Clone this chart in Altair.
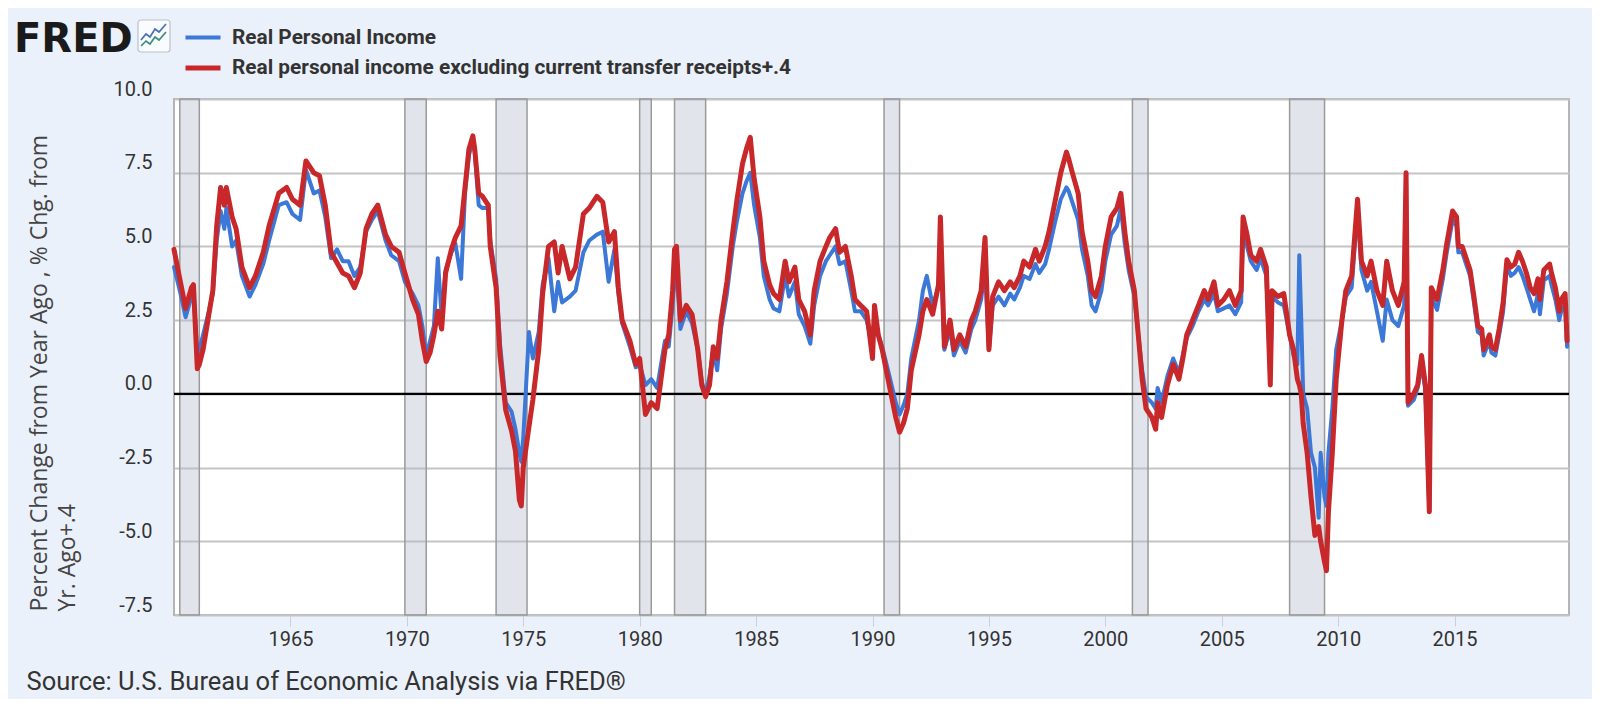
import base64
import altair as alt
import pandas as pd

SER_BLUE = "Real Personal Income"
SER_RED = "Real personal income excluding current transfer receipts+.4"

# ---- data (year-month, red = excl. transfers +.4, blue = real personal income)
dates_60s = ["1960-01","1960-04","1960-07","1960-10","1960-11",
             "1961-01","1961-02","1961-04","1961-07","1961-09","1961-11",
             "1962-01","1962-03","1962-04","1962-07","1962-09","1962-12",
             "1963-04","1963-07","1963-11",
             "1964-02","1964-07","1964-11",
             "1965-02","1965-06","1965-09",
             "1966-01","1966-04","1966-07","1966-10",
             "1967-01","1967-04","1967-07","1967-10",
             "1968-01","1968-04","1968-07","1968-10",
             "1969-02","1969-05","1969-09","1969-12"]
red_60s = [4.9,3.9,2.9,3.6,3.7,
           0.85,1.0,1.5,2.7,3.5,5.7,
           7.0,6.4,7.0,6.0,5.6,4.3,
           3.6,4.0,4.8,
           5.7,6.8,7.0,
           6.6,6.4,7.9,
           7.5,7.4,6.4,4.8,
           4.45,4.1,4.0,3.6,
           4.1,5.6,6.1,6.4,
           5.4,5.0,4.8,4.1]
blue_60s = [4.3,3.5,2.6,3.3,3.5,
            1.3,1.5,2.0,2.8,3.4,5.2,
            6.2,5.6,6.3,5.0,5.2,4.0,
            3.3,3.7,4.4,
            5.2,6.4,6.5,
            6.1,5.9,7.6,
            6.8,6.9,6.0,4.6,
            4.9,4.5,4.5,4.0,
            4.3,5.5,5.9,6.2,
            5.2,4.7,4.5,3.8]

dates_70s = ["1970-04","1970-07","1970-09","1970-11",
             "1971-01","1971-03","1971-05","1971-07","1971-09","1971-12",
             "1972-02","1972-05","1972-07","1972-09","1972-11","1972-12",
             "1973-02","1973-04","1973-07","1973-08","1973-11",
             "1974-01","1974-04","1974-07","1974-09","1974-11","1974-12",
             "1975-01","1975-04","1975-06","1975-09","1975-11",
             "1976-02","1976-05","1976-07","1976-09",
             "1977-01","1977-04","1977-08","1977-11",
             "1978-03","1978-06","1978-09","1978-12",
             "1979-02","1979-04","1979-08","1979-11"]
red_70s = [3.2,2.7,1.8,1.1,
           1.4,2.0,2.8,2.2,4.1,4.9,
           5.3,5.7,7.0,8.3,8.75,8.3,
           6.8,6.7,6.4,5.0,3.6,
           1.3,-0.55,-1.25,-1.95,-3.6,-3.8,
           -2.5,-1.1,-0.2,1.5,3.4,
           5.0,5.15,4.1,5.0,
           3.9,4.3,6.1,6.3,
           6.7,6.5,5.15,5.5,
           3.6,2.5,1.8,1.0]
blue_70s = [3.4,3.0,2.3,1.3,
            1.8,2.3,4.6,2.6,4.2,4.8,
            5.1,3.9,6.8,8.1,8.6,8.2,
            6.4,6.3,6.3,5.2,3.9,
            1.7,-0.3,-0.6,-1.2,-2.0,-2.3,
            -1.5,2.1,1.2,2.1,3.7,
            4.6,2.8,3.8,3.1,
            3.3,3.5,4.8,5.2,
            5.4,5.5,3.8,4.9,
            3.4,2.4,1.6,0.9]

dates_80s = ["1980-01","1980-04","1980-07","1980-10","1980-12",
             "1981-02","1981-04","1981-06","1981-07","1981-08","1981-10",
             "1982-01","1982-04","1982-07","1982-09","1982-11",
             "1983-01","1983-03","1983-05","1983-07","1983-10",
             "1984-01","1984-03","1984-06","1984-08","1984-10","1984-12",
             "1985-03","1985-05","1985-08","1985-10",
             "1986-01","1986-04","1986-06","1986-09","1986-11",
             "1987-02","1987-05","1987-07","1987-10",
             "1988-01","1988-03","1988-06","1988-08","1988-11",
             "1989-02","1989-04","1989-07","1989-10"]
red_80s = [1.2,-0.7,-0.3,-0.5,0.5,
           1.5,2.0,3.5,4.9,5.0,2.5,
           3.0,2.7,1.5,0.3,-0.1,
           0.3,1.6,1.2,2.5,3.8,
           5.5,6.5,7.8,8.3,8.7,7.3,
           6.0,4.5,3.7,3.4,
           3.2,4.5,3.8,4.3,3.2,
           2.8,2.0,3.5,4.5,
           5.0,5.3,5.6,4.8,5.0,
           4.0,3.2,3.0,2.8]
blue_80s = [1.0,0.3,0.5,0.2,1.0,
            1.8,1.6,3.0,4.0,4.2,2.2,
            2.8,2.4,1.5,0.4,0.0,
            0.6,1.5,0.8,2.2,3.4,
            5.0,5.8,6.8,7.2,7.5,6.4,
            5.3,4.0,3.2,2.9,
            2.8,4.0,3.3,3.8,2.7,
            2.3,1.7,3.0,4.0,
            4.5,4.7,5.0,4.4,4.5,
            3.5,2.8,2.8,2.5]

dates_90s = ["1990-01","1990-02","1990-04","1990-06","1990-09",
             "1991-01","1991-03","1991-05","1991-07","1991-09",
             "1992-01","1992-03","1992-05","1992-08","1992-11","1992-12",
             "1993-02","1993-05","1993-07","1993-10",
             "1994-01","1994-04","1994-06","1994-09","1994-11",
             "1995-01","1995-03","1995-06","1995-09","1995-12",
             "1996-02","1996-05","1996-07","1996-10",
             "1997-01","1997-03","1997-06","1997-08","1997-11",
             "1998-02","1998-05","1998-06","1998-08","1998-11",
             "1999-01","1999-04","1999-06","1999-08","1999-11"]
red_90s = [1.2,3.0,2.0,1.5,0.5,
           -0.8,-1.3,-1.0,-0.5,0.8,
           2.0,2.8,3.2,2.7,3.7,6.0,
           1.6,2.5,1.5,2.0,
           1.6,2.5,2.8,3.5,5.3,
           1.5,3.3,3.8,3.5,3.8,
           3.6,4.0,4.5,4.3,
           4.9,4.5,5.0,5.5,6.5,
           7.5,8.2,8.0,7.5,6.8,
           5.5,4.5,3.5,3.3,4.0]
blue_90s = [1.6,2.7,2.0,1.6,0.8,
            -0.3,-0.7,-0.4,0.0,1.2,
            2.5,3.5,4.0,3.0,3.6,5.3,
            1.5,2.2,1.3,1.8,
            1.4,2.2,2.5,3.2,4.3,
            1.5,3.0,3.3,3.0,3.4,
            3.2,3.6,4.0,3.9,
            4.4,4.1,4.4,4.9,5.8,
            6.6,7.0,6.9,6.5,5.9,
            4.9,4.0,3.0,2.8,3.5]

dates_00s = ["2000-01","2000-04","2000-07","2000-09","2000-11",
             "2001-01","2001-04","2001-06","2001-08","2001-10",
             "2002-01","2002-03","2002-04","2002-06","2002-09","2002-12",
             "2003-03","2003-05","2003-07","2003-10",
             "2004-01","2004-04","2004-06","2004-09","2004-11",
             "2005-02","2005-05","2005-08","2005-11","2005-12",
             "2006-02","2006-04","2006-07","2006-09","2006-12",
             "2007-02","2007-03","2007-06","2007-09","2007-12",
             "2008-02","2008-04","2008-05","2008-06","2008-07","2008-09","2008-11",
             "2009-01","2009-03","2009-04","2009-06","2009-07","2009-08","2009-10","2009-12"]
red_00s = [5.0,6.0,6.3,6.8,5.5,
           4.5,3.5,2.0,0.5,-0.5,
           -0.8,-1.2,-0.3,-0.8,0.3,1.0,
           0.5,1.2,2.0,2.5,
           3.0,3.5,3.2,3.8,3.0,
           3.2,3.5,3.0,3.5,6.0,
           5.4,4.7,4.5,4.9,4.3,
           0.3,3.5,3.3,3.4,2.0,
           1.5,0.5,0.3,0.0,-1.0,-2.0,-3.5,
           -4.8,-4.5,-5.0,-5.7,-6.0,-4.0,-2.0,0.5]
blue_00s = [4.5,5.4,5.7,6.3,5.1,
            4.2,3.3,2.0,0.8,-0.1,
            -0.3,-0.5,0.2,-0.3,0.6,1.2,
            0.7,1.3,1.9,2.3,
            2.8,3.2,3.0,3.4,2.8,
            2.9,3.0,2.7,3.1,5.7,
            5.0,4.5,4.2,4.6,4.0,
            0.5,3.3,3.1,3.0,2.0,
            1.3,1.0,4.7,2.5,0.0,-0.5,-2.0,
            -2.5,-4.2,-2.0,-3.5,-3.8,-2.0,-0.5,1.5]

dates_10s = ["2010-03","2010-05","2010-08","2010-11",
             "2011-01","2011-04","2011-06","2011-09","2011-12",
             "2012-02","2012-05","2012-08","2012-11","2012-12",
             "2013-01","2013-04","2013-06","2013-08","2013-10","2013-12",
             "2014-01","2014-04","2014-07","2014-09","2014-12",
             "2015-02","2015-03","2015-05","2015-07","2015-09","2015-11",
             "2016-01","2016-03","2016-04","2016-07","2016-08","2016-10","2016-12",
             "2017-02","2017-04","2017-06","2017-08","2017-10","2017-12",
             "2018-02","2018-04","2018-06","2018-08","2018-09","2018-11",
             "2019-02","2019-03","2019-05","2019-07","2019-08","2019-10","2019-11"]
red_10s = [2.5,3.5,4.0,6.6,
           4.5,4.0,4.5,3.5,3.0,
           4.5,3.5,3.0,3.8,7.5,
           -0.3,0.0,0.3,1.3,0.3,-4.0,
           3.6,3.2,4.2,5.1,6.2,
           6.0,5.0,5.0,4.6,4.2,3.3,
           2.3,2.2,1.5,2.0,1.6,1.5,2.2,
           3.1,4.55,4.3,4.4,4.8,4.5,
           4.1,3.6,3.4,3.9,3.2,4.2,
           4.4,4.1,3.6,2.8,3.2,3.4,1.8]
blue_10s = [2.5,3.3,3.6,6.3,
            4.2,3.5,3.8,2.8,1.8,
            3.2,2.5,2.3,3.0,7.1,
            -0.4,-0.2,0.2,1.0,0.1,-4.0,
            3.3,2.85,3.9,4.8,5.9,
            5.7,4.8,4.8,4.4,4.0,3.1,
            2.1,2.0,1.3,1.8,1.4,1.3,2.0,
            2.8,4.4,4.0,4.1,4.3,4.0,
            3.6,3.2,2.8,3.4,2.7,3.85,
            4.0,3.7,3.2,2.5,2.8,3.0,1.6]

# NBER recessions (shaded)
rec_start = ["1960-04","1969-12","1973-11","1980-01","1981-07","1990-07","2001-03","2007-12"]
rec_end   = ["1961-02","1970-11","1975-03","1980-07","1982-11","1991-03","2001-11","2009-06"]

y_ticks = [-7.5, -5.0, -2.5, 0.0, 2.5, 5.0, 7.5, 10.0]
x_tick_years = list(range(1965, 2020, 5))

dates = dates_60s + dates_70s + dates_80s + dates_90s + dates_00s + dates_10s
red = red_60s + red_70s + red_80s + red_90s + red_00s + red_10s
blue = blue_60s + blue_70s + blue_80s + blue_90s + blue_00s + blue_10s
assert len(dates) == len(red) == len(blue)

rows = []
for d, v in zip(dates, blue):
    rows.append({"date": d + "-01T00:00:00", "series": SER_BLUE, "value": v})
for d, v in zip(dates, red):
    rows.append({"date": d + "-01T00:00:00", "series": SER_RED, "value": v})
df = pd.DataFrame(rows)

rec = pd.DataFrame({"start": [s + "-01T00:00:00" for s in rec_start],
                    "end": [e + "-01T00:00:00" for e in rec_end]})
zero_df = pd.DataFrame({"y": [0.0]})

# small FRED chart icon next to the logo
icon_svg = (
    "<svg xmlns='http://www.w3.org/2000/svg' width='34' height='34' viewBox='0 0 34 34'>"
    "<rect x='1' y='1' width='32' height='32' rx='3' fill='#f9fbfe' stroke='#b9c1cc' stroke-width='1.2'/>"
    "<polyline points='4,21 9,15 13,18 18,10 22,13 29,5' fill='none' stroke='#4a6fb5' stroke-width='1.7'/>"
    "<polyline points='4,27 9,22 13,25 18,18 22,21 29,13' fill='none' stroke='#3d8f7a' stroke-width='1.7'/>"
    "</svg>"
)
icon_url = "data:image/svg+xml;base64," + base64.b64encode(icon_svg.encode()).decode()
icon_df = pd.DataFrame({"u": [icon_url]})

x_scale = alt.Scale(domain=[alt.DateTime(year=1960, month=1, date=1),
                            alt.DateTime(year=2019, month=12, date=1)])
y_scale = alt.Scale(domain=[-7.5, 10], nice=False, zero=False)

x_axis = alt.Axis(
    values=[alt.DateTime(year=y, month=1, date=1) for y in x_tick_years],
    format="%Y", labelFont="Roboto", labelFontSize=20, labelColor="#333333",
    tickSize=11, tickColor="#c9ced8", tickWidth=1, labelPadding=3,
    domain=False, grid=False, labelFlush=False,
    title="Source: U.S. Bureau of Economic Analysis via FRED®",
    titleFont="Roboto", titleFontSize=25.5, titleFontWeight="normal",
    titleColor="#333333", titleAnchor="start", titleAlign="left",
    titleBaseline="middle", titleX=-148, titleY=66,
)
y_axis = alt.Axis(
    values=y_ticks,
    labelExpr="replace(format(datum.value, '.1f'), '\u2212', '-')",
    labelFont="Roboto", labelFontSize=20, labelColor="#333333",
    labelPadding=22, labelBaseline="bottom", labelFlush=False,
    ticks=False, domain=False, grid=True, gridColor="#c4c4c4", gridWidth=2,
    title=["Percent Change from Year Ago , % Chg. from", "Yr. Ago+.4"],
    titleFont="Open Sans", titleFontSize=23, titleFontWeight="normal",
    titleColor="#444444", titleAngle=270, titleAlign="left",
    titleBaseline="top", titleX=-146, titleY=512, titleLineHeight=28,
)

bands = alt.Chart(rec).mark_rect(
    fill="#b4bccb", fillOpacity=0.4, stroke="#9a9a9a", strokeWidth=1.5
).encode(
    x=alt.X("start:T", scale=x_scale, axis=x_axis),
    x2="end:T",
)

zero = alt.Chart(zero_df).mark_rule(color="black", strokeWidth=2.2).encode(
    y=alt.Y("y:Q", scale=y_scale, axis=y_axis)
)

lines = alt.Chart(df).mark_line(strokeJoin="round", strokeCap="round").encode(
    x=alt.X("date:T", scale=x_scale, axis=x_axis),
    y=alt.Y("value:Q", scale=y_scale, axis=y_axis),
    color=alt.Color(
        "series:N",
        scale=alt.Scale(domain=[SER_BLUE, SER_RED], range=["#3c78d8", "#c8282a"]),
        legend=alt.Legend(
            orient="none", legendX=9, legendY=-81, title=None,
            symbolType="stroke", symbolSize=1225, symbolStrokeWidth=4.5,
            labelFont="Roboto", labelFontSize=20.8, labelFontWeight="bold",
            labelColor="#333333", labelOffset=9, rowPadding=-3,
            labelLimit=0, direction="vertical",
        ),
    ),
    strokeWidth=alt.StrokeWidth(
        "series:N",
        scale=alt.Scale(domain=[SER_BLUE, SER_RED], range=[4.0, 5.0]),
        legend=None,
    ),
)

icon = alt.Chart(icon_df).mark_image(
    width=34, height=34, align="left", baseline="top"
).encode(url="u:N", x=alt.value(-37), y=alt.value(-80))

chart = alt.layer(bands, zero, lines, icon).properties(
    width=1395, height=516,
    background="#ebf1fa",
    padding={"left": 166, "top": 91, "right": 23, "bottom": 84},
    autosize=alt.AutoSizeParams(type="none"),
    title=alt.TitleParams(
        "FRED", anchor="start", frame="group", dx=-160, dy=46,
        fontSize=40, fontWeight="bold", font="DejaVu Sans", color="#1a1a1a",
    ),
).configure_view(stroke="#b5b5b5", strokeWidth=2, fill="white")

chart.save("out.html", embed_options={"renderer": "svg", "actions": False})
